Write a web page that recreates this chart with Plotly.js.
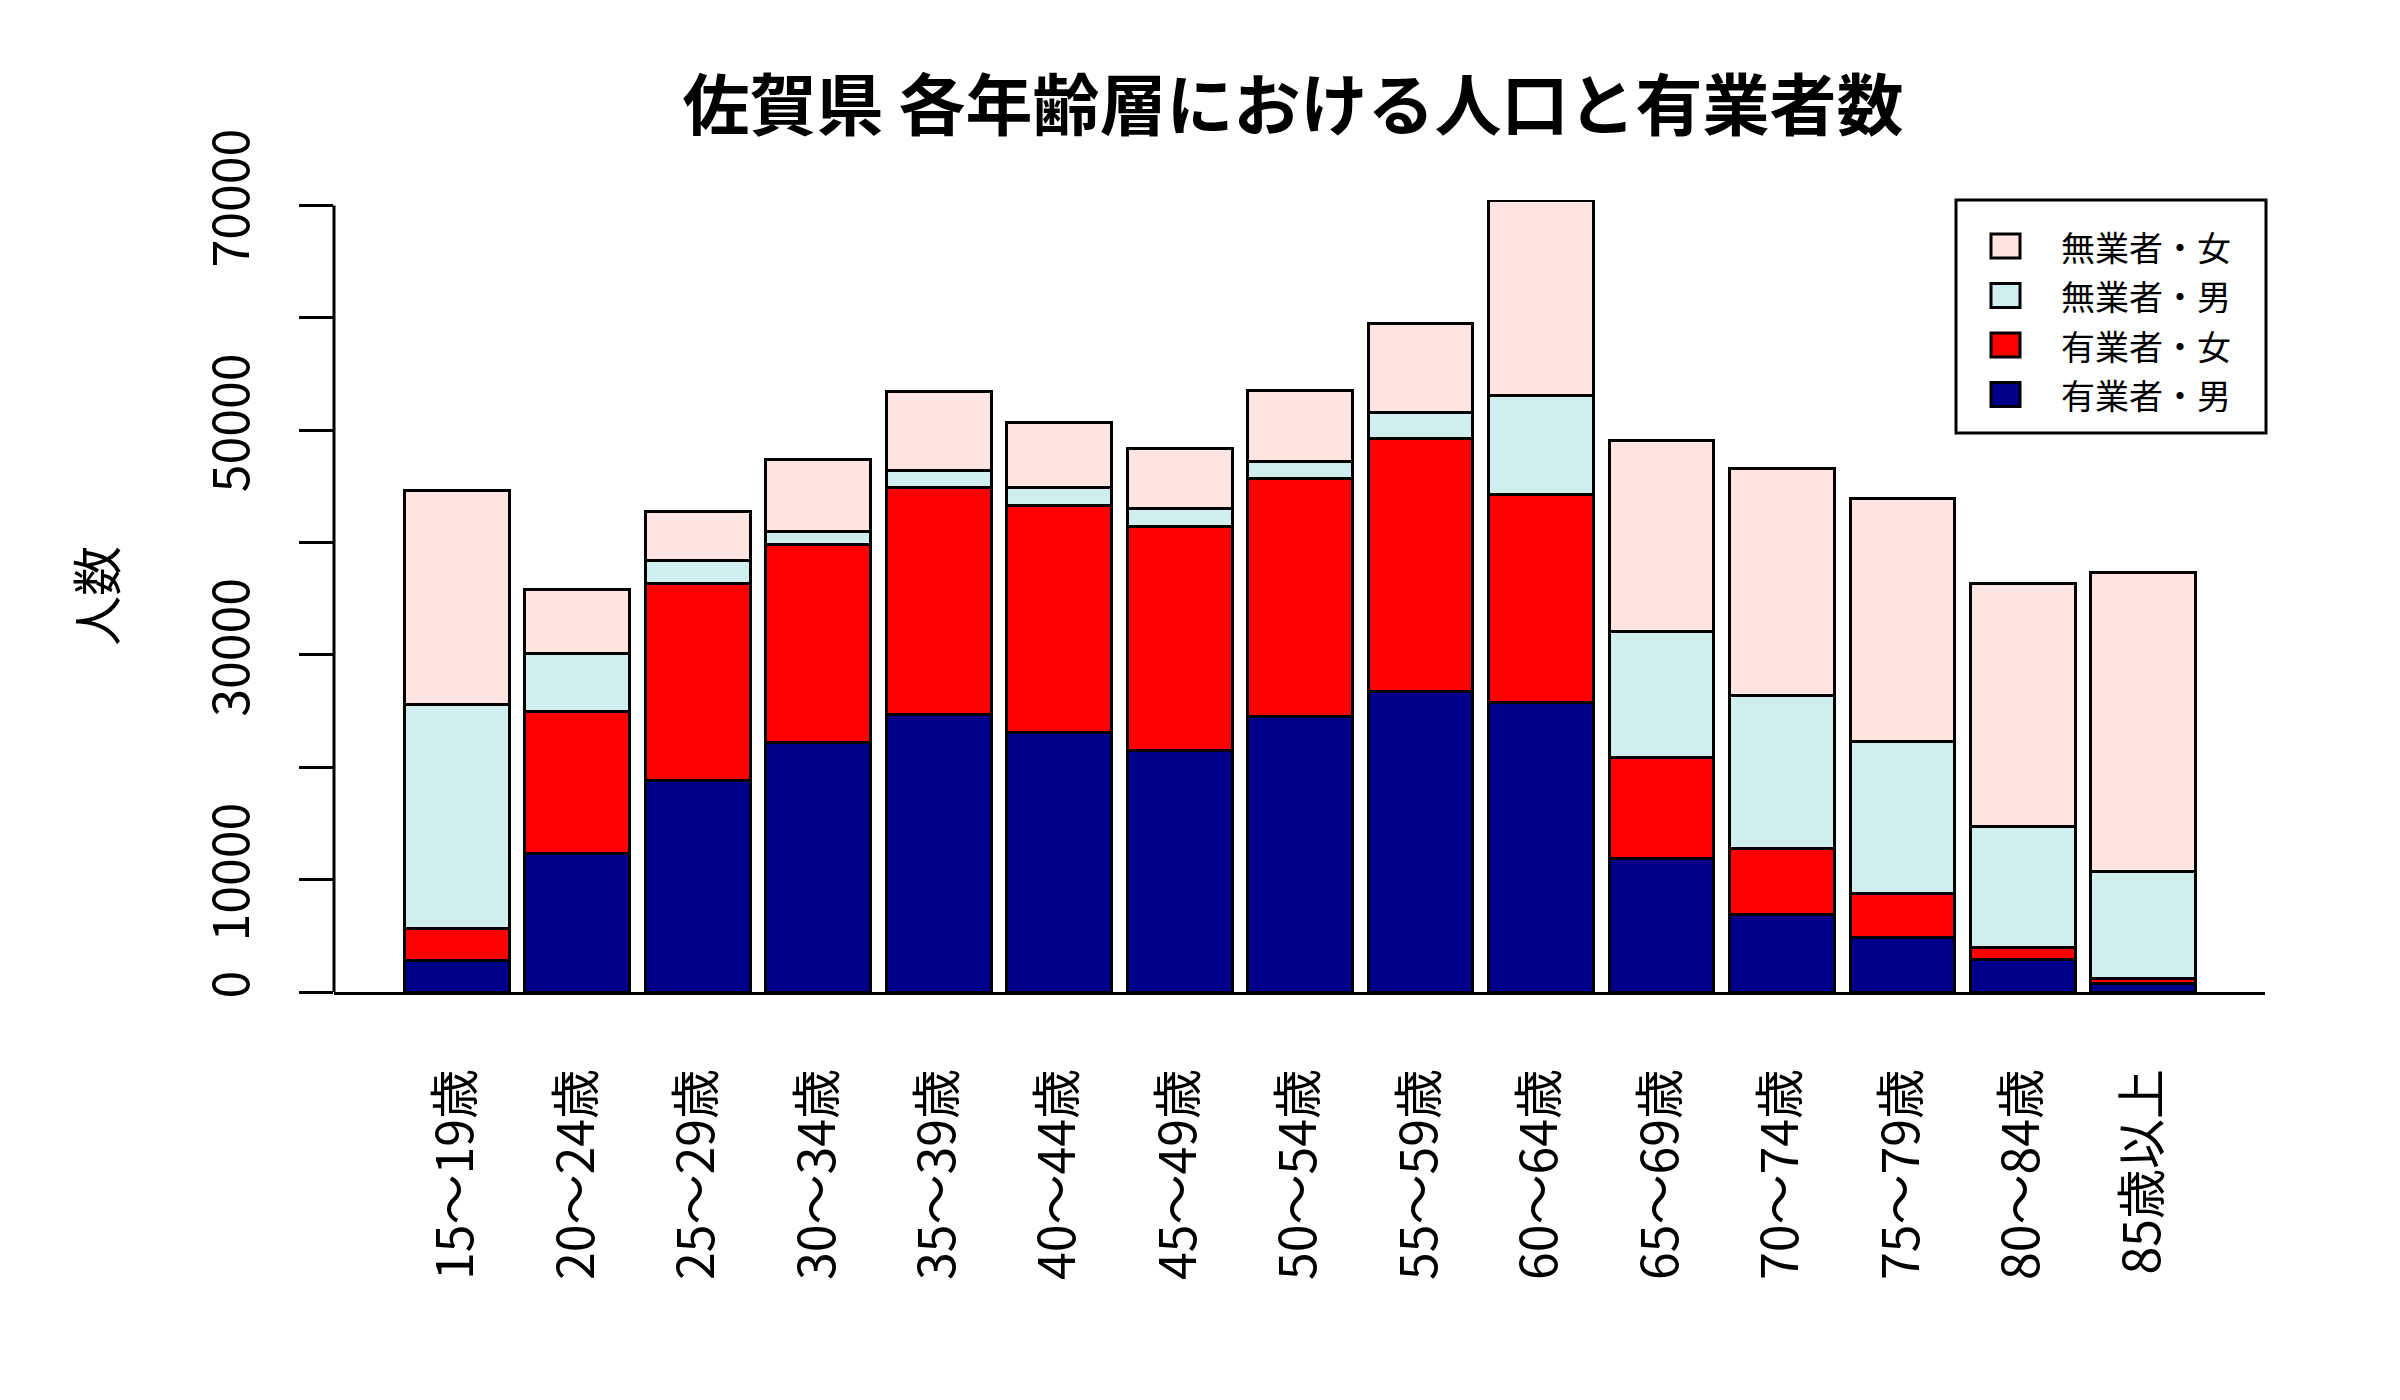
<!DOCTYPE html>
<html>
<head>
<meta charset="utf-8">
<script src="https://cdn.plot.ly/plotly-3.0.1.min.js"></script>
<style>html,body{margin:0;padding:0;background:#fff;}#chart{width:2400px;height:1400px;}</style>
</head>
<body>
<div id="chart"></div>
<script>
// Categories (age groups)
const ageGroups = ["15～19歳","20～24歳","25～29歳","30～34歳","35～39歳","40～44歳","45～49歳","50～54歳","55～59歳","60～64歳","65～69歳","70～74歳","75～79歳","80～84歳","85歳以上"];

// Series values (persons)
const employedMale     = [2830, 12290, 18790, 22190, 24730, 23130, 21530, 24490, 26710, 25770, 11870, 6920, 4850, 2870, 750];
const employedFemale   = [2820, 12720, 17530, 17660, 20160, 20200, 19920, 21200, 22560, 18550, 9000, 5890, 3960, 1090, 470];
const unemployedMale   = [19970, 5090, 2120, 1180, 1550, 1610, 1550, 1550, 2350, 8810, 11210, 13570, 13470, 10740, 9470];
const unemployedFemale = [19030, 5750, 4330, 6360, 7020, 5790, 5370, 6320, 7920, 17290, 17050, 20250, 21670, 21620, 26660];

// Series names
const seriesNames = ["有業者・男", "有業者・女", "無業者・男", "無業者・女"];

// Y tick values / labels
const yTickVals = [0, 10000, 20000, 30000, 40000, 50000, 60000, 70000];
const yTickText = ["0", "10000", "", "30000", "", "50000", "", "70000"];

const colors = ["#00008B", "#FF0000", "#D1EEEE", "#FFE4E1"];
const seriesData = [employedMale, employedFemale, unemployedMale, unemployedFemale];

const FONT = "'Noto Sans CJK JP', 'Noto Sans', sans-serif";

// plot area geometry (pixels)
const W = 2400, H = 1400;
const M = { l: 334, r: 135, t: 200, b: 408 };
const plotW = W - M.l - M.r, plotH = H - M.t - M.b;
const px2x = p => (p - M.l) / plotW;
const py2y = p => (H - M.b - p) / plotH;

const traces = seriesData.map((vals, i) => ({
  type: "bar",
  name: seriesNames[i],
  x: ageGroups,
  y: vals,
  marker: { color: colors[i], line: { color: "#000", width: 3 } },
  showlegend: false,
  hoverinfo: "x+y+name"
}));

// custom legend (top-right box), entries in reversed order like the original
const LEG_FONT = 34;
const LEG_LINE = 49.5;
const LEG_FIRST = 246;
const shapes = [{
  type: "line", xref: "paper", yref: "y",
  x0: 0, x1: 0, y0: yTickVals[0], y1: yTickVals[yTickVals.length - 1],
  line: { color: "#000", width: 3 }
}, {
  type: "rect", xref: "paper", yref: "paper",
  x0: px2x(1956), x1: px2x(2266), y0: py2y(433), y1: py2y(200),
  fillcolor: "#fff", line: { color: "#000", width: 3 }, layer: "above"
}];
const annotations = [];
for (let k = 0; k < 4; k++) {
  const i = 3 - k;
  const cy = LEG_FIRST + k * LEG_LINE;
  shapes.push({
    type: "rect", xref: "paper", yref: "paper",
    x0: px2x(1991), x1: px2x(2020), y0: py2y(cy + 12), y1: py2y(cy - 12),
    fillcolor: colors[i], line: { color: "#000", width: 3 }, layer: "above"
  });
  annotations.push({
    xref: "paper", yref: "paper", x: px2x(2060), y: py2y(cy),
    xanchor: "left", yanchor: "middle", showarrow: false,
    borderpad: 0,
    text: seriesNames[i], font: { family: FONT, size: LEG_FONT, color: "#000" }
  });
}

const layout = {
  width: W,
  height: H,
  paper_bgcolor: "#fff",
  plot_bgcolor: "#fff",
  font: { family: FONT, size: 48, color: "#000" },
  margin: { l: M.l, r: M.r, t: M.t, b: M.b, pad: 0 },
  barmode: "stack",
  bargap: 0.13,
  showlegend: false,
  title: {
    text: "<b>佐賀県 各年齢層における人口と有業者数</b>",
    font: { family: FONT, size: 67, color: "#000" },
    x: 1293 / 2400, xanchor: "center", xref: "container",
    y: 1 - 107 / 1400, yanchor: "middle", yref: "container"
  },
  xaxis: {
    type: "category",
    range: [-1.02, 15.01],
    showline: true, linecolor: "#000", linewidth: 3,
    ticks: "", showgrid: false, zeroline: false,
    tickangle: -90,
    ticklabelstandoff: 54,
    tickfont: { family: FONT, size: 50, color: "#000" },
    automargin: false,
    fixedrange: true
  },
  yaxis: {
    range: [0, 70500],
    showline: false, showgrid: false, zeroline: false,
    ticks: "outside", ticklen: 34, tickwidth: 3, tickcolor: "#000",
    tickmode: "array", tickvals: yTickVals, ticktext: yTickText,
    tickangle: -90,
    ticklabelstandoff: 30,
    tickfont: { family: FONT, size: 50, color: "#000" },
    title: { text: "人数", font: { family: FONT, size: 50, color: "#000" }, standoff: 58 },
    automargin: false,
    fixedrange: true
  },
  shapes: shapes,
  annotations: annotations
};

Plotly.newPlot("chart", traces, layout, { displayModeBar: false, staticPlot: true });
</script>
</body>
</html>
